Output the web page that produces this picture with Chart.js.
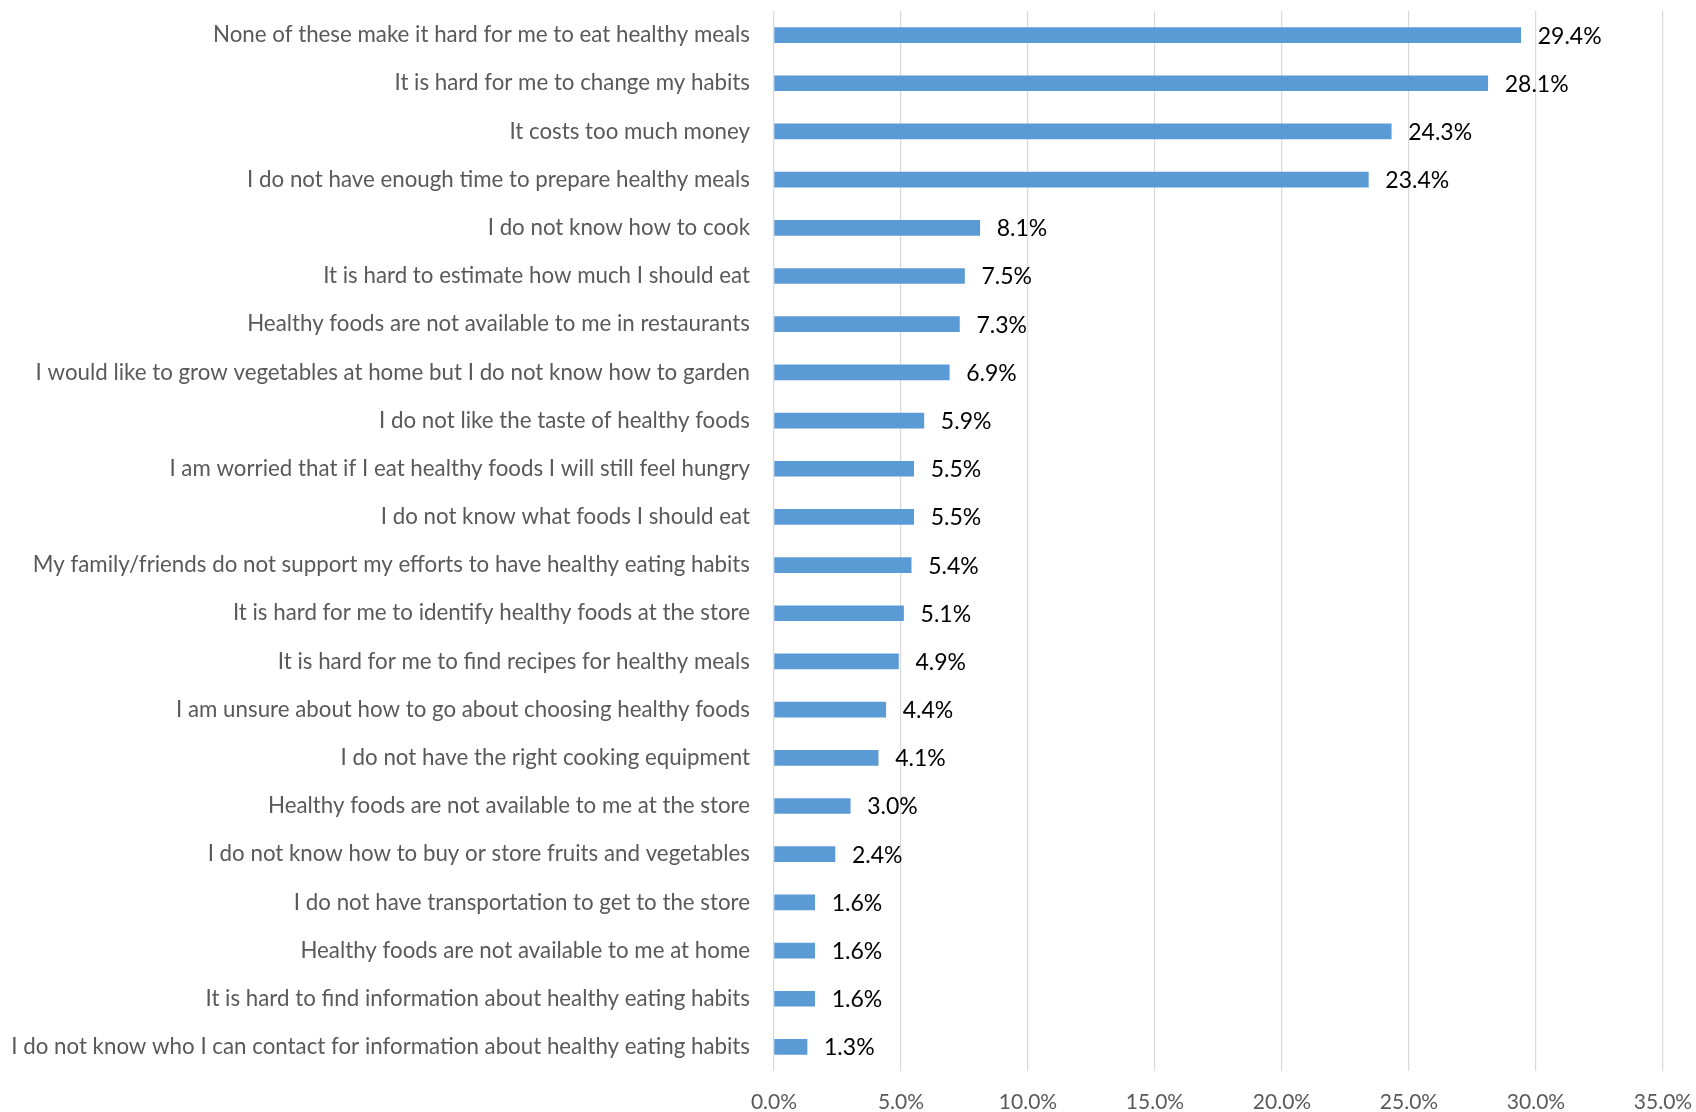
<!DOCTYPE html>
<html>
<head>
<meta charset="utf-8">
<script src="https://cdn.jsdelivr.net/npm/chart.js@4/dist/chart.umd.min.js"></script>
<style>
  html, body { margin: 0; padding: 0; background: #ffffff; }
  #wrap { width: 1696px; height: 1112px; position: relative; }
</style>
</head>
<body>
<div id="wrap"><canvas id="chart"></canvas></div>
<script>
// Barriers to healthy eating: share of respondents
const categories = [
  "None of these make it hard for me to eat healthy meals",
  "It is hard for me to change my habits",
  "It costs too much money",
  "I do not have enough time to prepare healthy meals",
  "I do not know how to cook",
  "It is hard to estimate how much I should eat",
  "Healthy foods are not available to me in restaurants",
  "I would like to grow vegetables at home but I do not know how to garden",
  "I do not like the taste of healthy foods",
  "I am worried that if I eat healthy foods I will still feel hungry",
  "I do not know what foods I should eat",
  "My family/friends do not support my efforts to have healthy eating habits",
  "It is hard for me to identify healthy foods at the store",
  "It is hard for me to find recipes for healthy meals",
  "I am unsure about how to go about choosing healthy foods",
  "I do not have the right cooking equipment",
  "Healthy foods are not available to me at the store",
  "I do not know how to buy or store fruits and vegetables",
  "I do not have transportation to get to the store",
  "Healthy foods are not available to me at home",
  "It is hard to find information about healthy eating habits",
  "I do not know who I can contact for information about healthy eating habits"
];
const percentages = [29.4, 28.1, 24.3, 23.4, 8.1, 7.5, 7.3, 6.9, 5.9, 5.5, 5.5, 5.4, 5.1, 4.9, 4.4, 4.1, 3.0, 2.4, 1.6, 1.6, 1.6, 1.3];
const axisMin = 0;
const axisMax = 35;
const axisStep = 5;

const FONT = "Lato, 'Open Sans', 'Liberation Sans', sans-serif";

// Value labels drawn just past the end of each bar
const valueLabels = {
  id: 'valueLabels',
  afterDatasetsDraw(chart) {
    const ctx = chart.ctx;
    const meta = chart.getDatasetMeta(0);
    ctx.save();
    ctx.font = "23px " + FONT;
    ctx.fillStyle = '#000000';
    ctx.textAlign = 'left';
    ctx.textBaseline = 'middle';
    meta.data.forEach((bar, i) => {
      ctx.fillText(percentages[i].toFixed(1) + '%', bar.x + 17, bar.y + 1);
    });
    ctx.restore();
  }
};

// Keep the plot area fixed by dropping the extra room Chart.js reserves for edge labels
function noEdgePadding(scale) {
  scale.paddingTop = 0;
  scale.paddingBottom = 0;
  scale.paddingLeft = 0;
  scale.paddingRight = 0;
}

new Chart(document.getElementById('chart'), {
  type: 'bar',
  data: {
    labels: categories,
    datasets: [{
      data: percentages,
      backgroundColor: '#5B9BD5',
      borderWidth: 0,
      barThickness: 15
    }]
  },
  options: {
    indexAxis: 'y',
    responsive: true,
    maintainAspectRatio: false,
    animation: false,
    layout: { padding: { top: 11, right: 33, left: 0, bottom: 0 } },
    plugins: {
      legend: { display: false },
      tooltip: { enabled: false }
    },
    scales: {
      x: {
        min: axisMin,
        max: axisMax,
        ticks: {
          stepSize: axisStep,
          padding: 19,
          color: '#595959',
          font: { family: FONT, size: 21 },
          maxRotation: 0,
          callback: (v) => Number(v).toFixed(1) + '%'
        },
        grid: { color: '#D9D9D9', lineWidth: 1.2, drawTicks: false },
        border: { display: false },
        afterFit(scale) { noEdgePadding(scale); scale.height = 41; }
      },
      y: {
        ticks: {
          padding: 24,
          color: '#595959',
          font: { family: FONT, size: 22.3 },
          autoSkip: false
        },
        grid: { display: false, drawTicks: false },
        border: { display: false },
        afterFit(scale) { noEdgePadding(scale); scale.width = 774; }
      }
    }
  },
  plugins: [valueLabels]
});
</script>
</body>
</html>
